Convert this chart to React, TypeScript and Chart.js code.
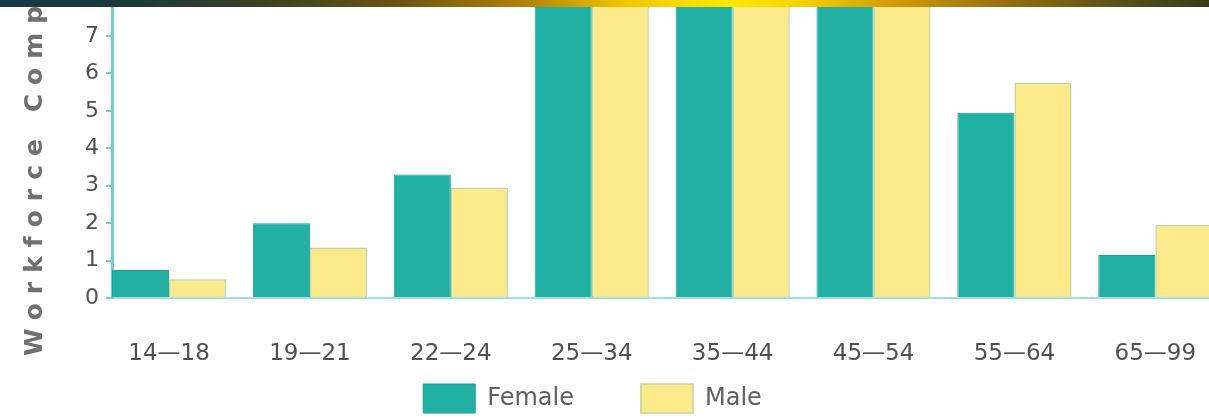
import React, { useEffect, useRef } from 'react';
import { Chart, registerables } from 'chart.js';

Chart.register(...registerables);

// ---- data ----
const ageGroups = ['14—18', '19—21', '22—24', '25—34', '35—44', '45—54', '55—64', '65—99'];
const seriesNames = ['Female', 'Male'];
const femaleValues = [0.75, 2.0, 3.3, 11.5, 13.0, 12.0, 4.95, 1.15];
const maleValues = [0.5, 1.35, 2.95, 12.0, 13.5, 12.5, 5.75, 1.95];
const yTickValues = [0, 1, 2, 3, 4, 5, 6, 7];
const yAxisTitle = 'Workforce Composition';

const FONT = '"DejaVu Sans", sans-serif';

const yTitlePlugin = {
  id: 'yTitlePlugin',
  afterDraw(chart: any) {
    const { ctx, chartArea } = chart;
    ctx.save();
    ctx.translate(chartArea.left - 70, chartArea.bottom + 58);
    ctx.rotate(-Math.PI / 2);
    ctx.font = `bold 25px ${FONT}`;
    try { (ctx as any).letterSpacing = '9px'; } catch (e) { /* ignore */ }
    ctx.fillStyle = '#707070';
    ctx.textAlign = 'left';
    ctx.textBaseline = 'alphabetic';
    ctx.fillText(yAxisTitle, 0, 0);
    ctx.restore();
  },
};

export default function App() {
  const canvasRef = useRef<HTMLCanvasElement | null>(null);

  useEffect(() => {
    const canvas = canvasRef.current;
    if (!canvas) return;
    Chart.defaults.font.family = FONT;
    const chart = new Chart(canvas, {
      type: 'bar',
      data: {
        datasets: [
          {
            label: seriesNames[0],
            data: femaleValues.map((v, i) => ({ x: i, y: v })),
            backgroundColor: '#22b0a5',
            borderColor: '#1f9f95',
            borderWidth: 1,
            categoryPercentage: 0.81,
            barPercentage: 1,
            clip: false as any,
          },
          {
            label: seriesNames[1],
            data: maleValues.map((v, i) => ({ x: i, y: v })),
            backgroundColor: '#fbe98a',
            borderColor: '#b9d79c',
            borderWidth: 1.5,
            categoryPercentage: 0.81,
            barPercentage: 1,
            clip: false as any,
          },
        ],
      },
      options: {
        animation: false,
        responsive: false,
        devicePixelRatio: 1,
        layout: { padding: { left: 0, right: 10, top: 8, bottom: 0 } },
        plugins: {
          legend: {
            position: 'bottom',
            labels: {
              boxWidth: 52,
              boxHeight: 29,
              padding: 67,
              color: '#606060',
              font: { family: FONT, size: 24 },
            },
          },
          tooltip: { enabled: false },
        },
        scales: {
          x: {
            type: 'linear',
            offset: false,
            bounds: 'data',
            min: -0.405,
            max: 7.53,
            afterBuildTicks: (s: any) => {
              s.ticks = ageGroups.map((_, i) => ({ value: i }));
            },
            ticks: {
              autoSkip: false,
              maxRotation: 0,
              padding: 34,
              color: '#505050',
              font: { family: FONT, size: 23 },
              callback: (v: any) => ageGroups[Math.round(v)] ?? '',
            },
            grid: { display: false, offset: false },
            border: { display: true, color: '#9fdfdf', width: 2 },
            afterFit: (s: any) => {
              s.height = 19;
              s.paddingLeft = 0;
              s.paddingRight = 0;
              s._computeLabelArea = () => undefined;
            },
          },
          y: {
            min: 0,
            max: 7.75,
            bounds: 'data',
            afterBuildTicks: (s: any) => {
              s.ticks = yTickValues.map((v) => ({ value: v }));
            },
            ticks: {
              padding: 7,
              color: '#505050',
              font: { family: FONT, size: 22 },
              callback: (v: any) => String(v),
            },
            grid: { drawOnChartArea: false, color: '#6fcfcf', tickLength: 6, lineWidth: 2 },
            border: { display: true, color: '#6fcfd0', width: 3, dash: [2, 1.5] },
            afterFit: (s: any) => {
              s.width = 157;
              s.paddingTop = 0;
              s.paddingBottom = 0;
            },
          },
        },
      } as any,
      plugins: [yTitlePlugin],
    });
    return () => chart.destroy();
  }, []);

  return (
    <div
      style={{
        position: 'fixed',
        left: 0,
        top: 0,
        width: 1209,
        height: 418,
        overflow: 'hidden',
        background: '#ffffff',
      }}
    >
      <canvas
        ref={canvasRef}
        width={1285}
        height={423}
        style={{ position: 'absolute', left: -45, top: 0, width: 1285, height: 423 }}
      />
      <div
        style={{
          position: 'absolute',
          left: 0,
          top: 0,
          width: '100%',
          height: 7,
          zIndex: 2,
          background:
            'linear-gradient(to right, #173845 0%, #1b3a3c 11%, #3c4220 22%, #6a5412 33%, #b88505 44%, #f1c800 52%, #fde800 60%, #f6d300 66%, #d19a05 74%, #8f6c10 84%, #55501a 93%, #3b3a18 100%)',
        }}
      />
    </div>
  );
}
